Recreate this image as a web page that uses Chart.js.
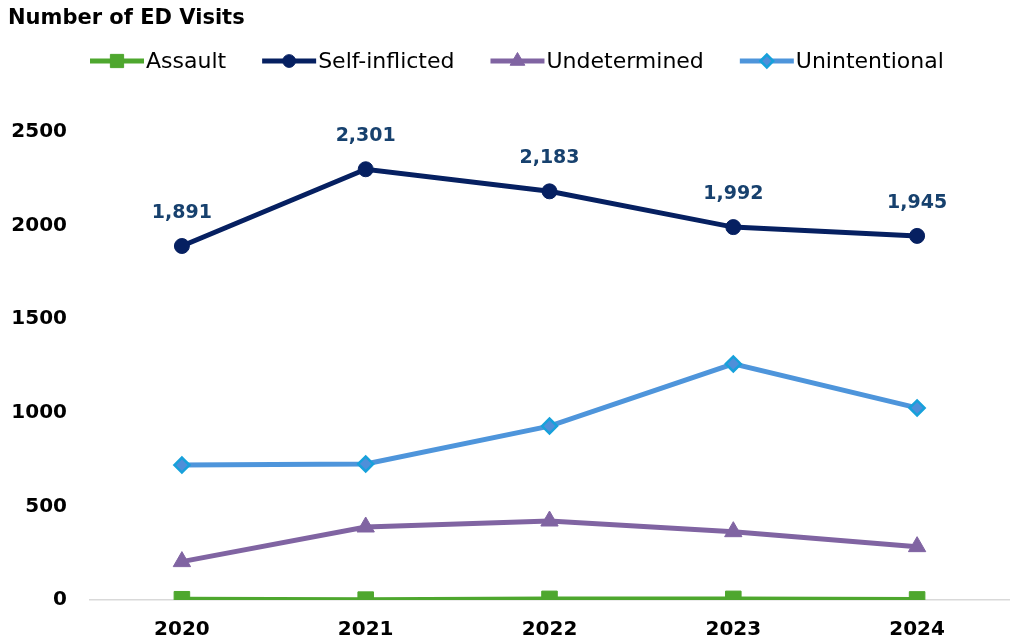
<!DOCTYPE html>
<html>
<head>
<meta charset="utf-8">
<script src="https://cdn.jsdelivr.net/npm/chart.js@4/dist/chart.umd.min.js"></script>
<style>
  html, body { margin: 0; padding: 0; background: #fff; }
  #wrap { width: 1021px; height: 644px; position: relative; }
</style>
</head>
<body>
<div id="wrap"><canvas id="edChart"></canvas></div>
<script>
// data
const years = ["2020", "2021", "2022", "2023", "2024"];
const assault = [4, 2, 6, 6, 3];
const selfInflicted = [1891, 2301, 2183, 1992, 1945];
const undetermined = [205, 390, 422, 365, 285];
const unintentional = [721, 727, 929, 1261, 1026];
const yTicks = [0, 500, 1000, 1500, 2000, 2500];

const titleText = "Number of ED Visits";
const FONT = "'DejaVu Sans', Arial, sans-serif";

// title + legend drawn on the canvas (line with marker in the middle)
const headerPlugin = {
    id: "header",
    afterDraw(chart) {
        const ctx = chart.ctx;
        ctx.save();
        ctx.fillStyle = "#000";
        ctx.font = "bold 21px " + FONT;
        ctx.textAlign = "left";
        ctx.textBaseline = "middle";
        ctx.fillText(titleText, 8, 19);

        ctx.font = "22px " + FONT;
        let x = 90;
        const y = 61;
        chart.data.datasets.forEach(ds => {
            ctx.strokeStyle = ds.borderColor;
            ctx.lineWidth = 5;
            ctx.beginPath();
            ctx.moveTo(x, y);
            ctx.lineTo(x + 54, y);
            ctx.stroke();
            ctx.fillStyle = ds.pointBackgroundColor;
            ctx.strokeStyle = ds.pointBorderColor;
            ctx.lineWidth = ds.pointBorderWidth;
            Chart.helpers.drawPoint(ctx, {
                pointStyle: ds.pointStyle,
                radius: ds.pointRadius * 0.85,
                borderWidth: ds.pointBorderWidth,
                rotation: 0
            }, x + 27, y);
            ctx.fillStyle = "#000";
            ctx.fillText(ds.label, x + 56, y + 1);
            x += 56 + ctx.measureText(ds.label).width + 36;
        });
        ctx.restore();
    }
};

// value labels above the Self-inflicted points
const valueLabels = {
    id: "valueLabels",
    afterDatasetsDraw(chart) {
        const ctx = chart.ctx;
        const idx = chart.data.datasets.findIndex(d => d.label === "Self-inflicted");
        const meta = chart.getDatasetMeta(idx);
        ctx.save();
        ctx.font = "bold 19px " + FONT;
        ctx.fillStyle = "#17416E";
        ctx.textAlign = "center";
        ctx.textBaseline = "middle";
        meta.data.forEach((pt, i) => {
            const v = chart.data.datasets[idx].data[i];
            ctx.fillText(v.toLocaleString("en-US"), pt.x, pt.y - 33);
        });
        ctx.restore();
    }
};

function series(label, data, color, style, radius, fill, border, bw) {
    return {
        label: label,
        data: data,
        borderColor: color,
        backgroundColor: color,
        borderWidth: 5,
        pointStyle: style,
        pointRadius: radius,
        pointHoverRadius: radius,
        pointBackgroundColor: fill,
        pointBorderColor: border,
        pointBorderWidth: bw,
        tension: 0
    };
}

const ctx = document.getElementById("edChart").getContext("2d");
new Chart(ctx, {
    type: "line",
    data: {
        labels: years,
        datasets: [
            series("Assault", assault, "#4EA72E", "rect", 11, "#4EA72E", "#4EA72E", 1),
            series("Self-inflicted", selfInflicted, "#062061", "circle", 7.5, "#062061", "#062061", 1),
            series("Undetermined", undetermined, "#8064A2", "triangle", 10, "#8064A2", "#8064A2", 1),
            series("Unintentional", unintentional, "#4E95DB", "rectRot", 7.5, "#4F8FD9", "#17A1DB", 2.5)
        ]
    },
    options: {
        responsive: true,
        maintainAspectRatio: false,
        animation: false,
        layout: { padding: { top: 132, right: 10, bottom: 2, left: 0 } },
        plugins: {
            legend: { display: false },
            title: { display: false },
            tooltip: { enabled: false }
        },
        scales: {
            x: {
                offset: true,
                afterFit(scale) { scale.height = 42; },
                grid: { display: false, drawTicks: false },
                border: { display: true, color: "#D9D9D9", width: 1.5 },
                ticks: {
                    color: "#000",
                    padding: 18,
                    font: { family: FONT, size: 20, weight: "bold" }
                }
            },
            y: {
                min: 0,
                max: 2500,
                afterFit(scale) { scale.width = 90; },
                afterBuildTicks(scale) { scale.ticks = yTicks.map(v => ({ value: v })); },
                grid: { display: false, drawTicks: false },
                border: { display: false },
                ticks: {
                    color: "#000",
                    padding: 23,
                    font: { family: FONT, size: 20, weight: "bold" },
                    callback: v => String(v)
                }
            }
        }
    },
    plugins: [headerPlugin, valueLabels]
});
</script>
</body>
</html>
